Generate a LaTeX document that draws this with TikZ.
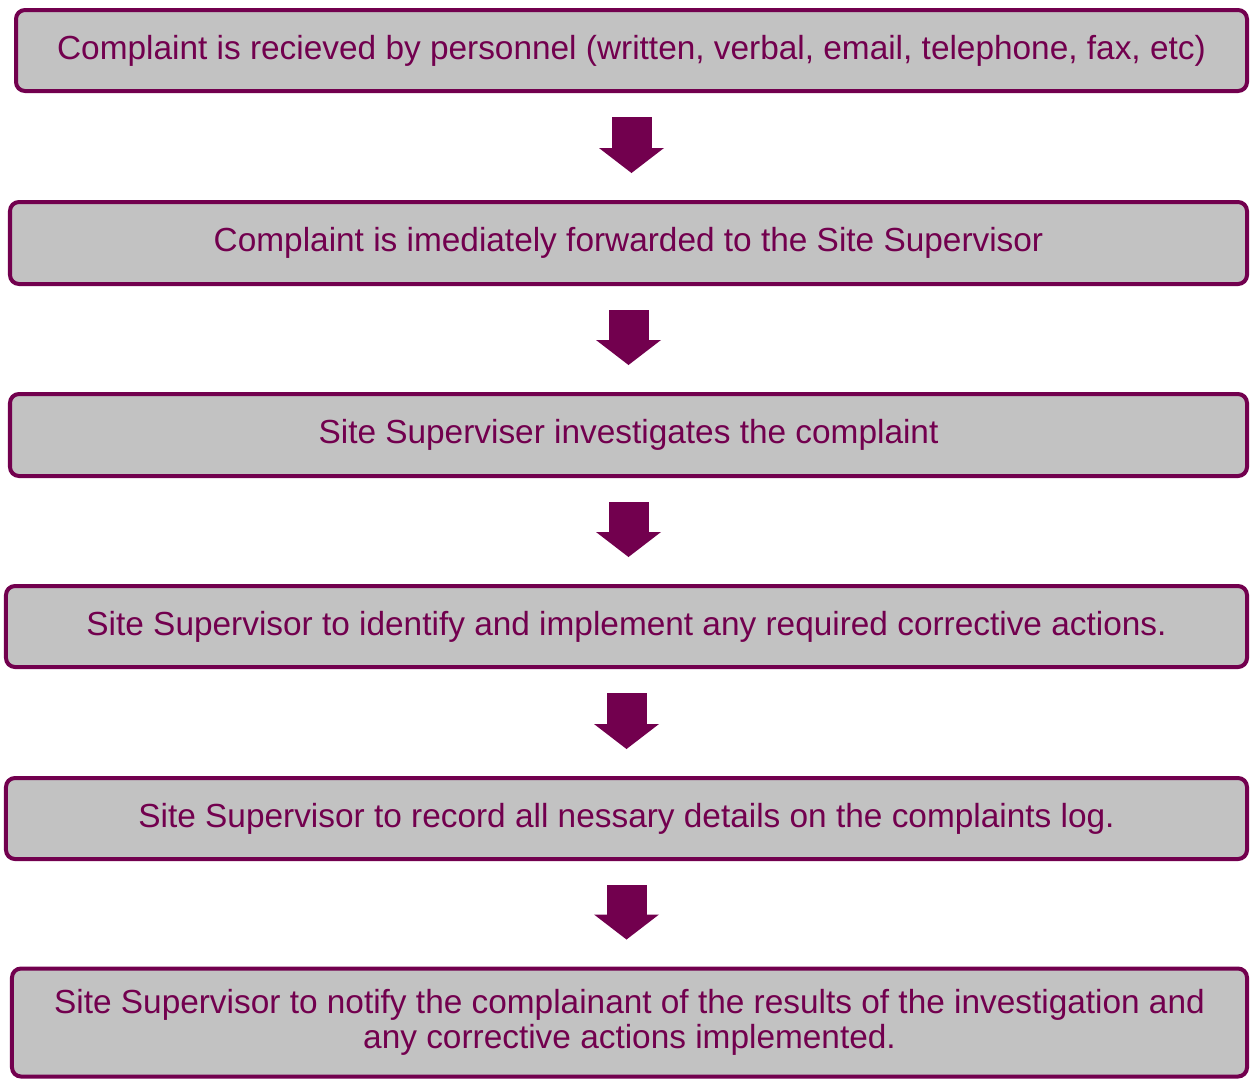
\documentclass[tikz,border=0pt]{standalone}
\usepackage{fontspec}
\setmainfont{Liberation Sans}
\usetikzlibrary{arrows.meta,calc}
\definecolor{Plum}{HTML}{72004E}
\definecolor{BoxGray}{HTML}{C2C2C2}
\tikzset{
  stepbox/.style={
    rounded corners=0.18cm, draw=Plum, line width=0.08cm, fill=BoxGray,
    text=Plum, align=center, inner sep=0pt,
    font=\fontsize{19}{20}\selectfont
  },
  flow/.style={
    -{Triangle[length=0.5cm,width=1.3cm,line width=0pt]},
    line width=0.8cm, draw=Plum, shorten <=0.48cm, shorten >=0.54cm
  }
}
\begin{document}
\begin{tikzpicture}
  \useasboundingbox (0,0) rectangle (25.02,-21.58);
  \node[stepbox,minimum width=24.62cm,minimum height=1.62cm] (recv) at (12.63,-1.01)
    {Complaint is recieved by personnel (written, verbal, email, telephone, fax, etc)};
  \node[stepbox,minimum width=24.74cm,minimum height=1.64cm] (fwd) at (12.57,-4.86)
    {Complaint is imediately forwarded to the Site Supervisor};
  \node[stepbox,minimum width=24.74cm,minimum height=1.64cm] (invest) at (12.57,-8.70)
    {Site Superviser investigates the complaint};
  \node[stepbox,minimum width=24.82cm,minimum height=1.62cm] (fix) at (12.53,-12.53)
    {Site Supervisor to identify and implement any required corrective actions.};
  \node[stepbox,minimum width=24.82cm,minimum height=1.62cm] (log) at (12.53,-16.37)
    {Site Supervisor to record all nessary details on the complaints log.};
  \node[stepbox,minimum width=24.70cm,minimum height=2.16cm] (notify) at (12.59,-20.45)
    {Site Supervisor to notify the complainant of the results of the investigation and\\
     any corrective actions implemented.};
  % block arrows between the steps
  \draw[flow] (recv.south) -- (recv.south |- fwd.north);
  \draw[flow] (fwd.south) -- (fwd.south |- invest.north);
  \draw[flow] (invest.south) -- (invest.south |- fix.north);
  \draw[flow] (fix.south) -- (fix.south |- log.north);
  \draw[flow] (log.south) -- (log.south |- notify.north);
\end{tikzpicture}
\end{document}
